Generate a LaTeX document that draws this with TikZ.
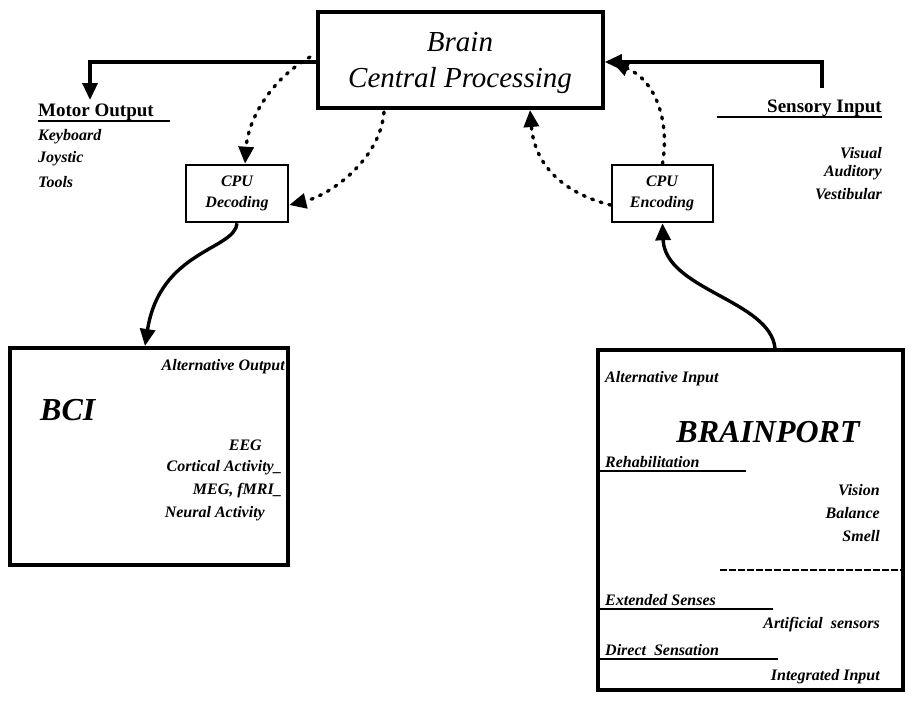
\documentclass[tikz,border=0pt]{standalone}
\usepackage{fontspec}
\setmainfont{Liberation Serif}
\usetikzlibrary{arrows.meta}
\begin{document}
\begin{tikzpicture}[x=1pt,y=-1pt,
  box/.style={draw,line width=3.6pt,inner sep=0pt},
  sbox/.style={draw,line width=2.6pt,inner sep=0pt},
  arr/.style={line width=3.4pt,-{Triangle[length=17pt,width=15pt]}},
  dot/.style={line width=3.4pt,line cap=round,dash pattern=on 2pt off 7pt,-{Triangle[length=17pt,width=15pt]}},
  sm/.style={font=\fontsize{16}{18}\selectfont\itshape\bfseries,inner sep=0pt},
  hd/.style={font=\fontsize{19}{21}\selectfont\bfseries,inner sep=0pt}]
\useasboundingbox (0,0) rectangle (914,702);
% boxes
\node[box,minimum width=285pt,minimum height=96pt] (brain) at (460.5,60) {};
\node[inner sep=0pt,font=\fontsize{29}{32}\selectfont\itshape] (t1) at (460,42) {Brain};
\node[inner sep=0pt,font=\fontsize{29}{32}\selectfont\itshape] (t2) at (460,81) {Central Processing};
\node[sbox,minimum width=102pt,minimum height=57pt] (dec) at (237,193.5) {};
\node[sm] (d1) at (237,181) {CPU};
\node[sm] (d2) at (237,204) {Decoding};
\node[sbox,minimum width=101pt,minimum height=57pt] (enc) at (662.5,193.5) {};
\node[sm] (e1) at (662,181) {CPU};
\node[sm] (e2) at (662,204) {Encoding};
\node[box,minimum width=278pt,minimum height=217pt] (bci) at (149,456.5) {};
\node[box,minimum width=305pt,minimum height=340pt] (bp) at (750.5,520) {};
% motor / sensory
\coordinate (mo) at (90,100);
\draw[arr] (brain.west |- 0,62) -| (mo);
\node[hd,anchor=west] (mot) at (38,112) {Motor Output};
\draw[line width=1.4pt] (38,121) -- (170,121);
\node[sm,anchor=west] (k1) at (38,137) {Keyboard};
\node[sm,anchor=west] (k2) at (38,159) {Joystic};
\node[sm,anchor=west] (k3) at (38,182) {Tools};
\coordinate (si) at (822,88);
\draw[arr] (si) |- (brain.east |- 0,62);
\node[hd,anchor=east] (sen) at (882,108) {Sensory Input};
\draw[line width=1.4pt] (717,117) -- (882,117);
\node[sm,anchor=east] (v1) at (882,153) {Visual};
\node[sm,anchor=east] (v2) at (882,173) {Auditory};
\node[sm,anchor=east] (v3) at (882,194) {Vestibular};
% dotted
\draw[dot] (310,57) .. controls (270,80) and (248,120) .. (dec.north -| 245,0);
\draw[dot] (384,112) .. controls (380,160) and (330,195) .. (dec.east |- 0,205);
\draw[dot] (enc.west |- 0,205) .. controls (570,195) and (535,170) .. (530,110);
\draw[dot] (enc.north) .. controls (670,120) and (655,80) .. (612,62);
% solid curves
\draw[arr] (dec.south) .. controls (235,250) and (160,250) .. (145,346);
\draw[arr] (bp.north -| 775,0) .. controls (770,300) and (665,290) .. (enc.south);
% BCI text
\node[sm,anchor=east] (ao) at (285,367) {Alternative Output};
\node[inner sep=0pt,anchor=west,font=\fontsize{32}{34}\selectfont\itshape\bfseries] (bcit) at (40,410) {BCI};
\node[sm,anchor=east] (b1) at (262,445) {EEG};
\node[sm,anchor=east] (b2) at (282,468) {Cortical Activity\_};
\node[sm,anchor=east] (b3) at (282,491) {MEG, fMRI\_};
\node[sm,anchor=east] (b4) at (265,514) {Neural Activity};
% brainport text
\node[sm,anchor=west] (ai) at (605,379) {Alternative Input};
\node[inner sep=0pt,font=\fontsize{32}{34}\selectfont\itshape\bfseries] (bpt) at (768,432) {BRAINPORT};
\node[sm,anchor=west] (r0) at (605,462) {Rehabilitation};
\draw[line width=1.4pt] (598,471) -- (746,471);
\node[sm,anchor=east] (r1) at (880,490) {Vision};
\node[sm,anchor=east] (r2) at (880,513) {Balance};
\node[sm,anchor=east] (r3) at (880,536) {Smell};
\draw[line width=2.2pt,dash pattern=on 7pt off 2pt] (720,570) -- (903,570);
\node[sm,anchor=west] (x0) at (605,600) {Extended Senses};
\draw[line width=1.4pt] (598,609) -- (773,609);
\node[sm,anchor=east] (x1) at (880,625) {Artificial\ \ sensors};
\node[sm,anchor=west] (x2) at (605,650) {Direct\ \ Sensation};
\draw[line width=1.4pt] (598,659) -- (778,659);
\node[sm,anchor=east] (x3) at (880,677) {Integrated Input};
\end{tikzpicture}
\end{document}
